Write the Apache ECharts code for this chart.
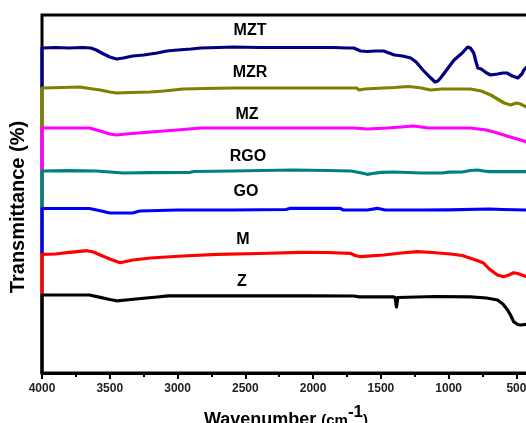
<!DOCTYPE html>
<html>
<head>
<meta charset="utf-8">
<script src="https://cdn.jsdelivr.net/npm/echarts@6/dist/echarts.min.js"></script>
<style>
html,body{margin:0;padding:0;background:#fff;}
#chart{width:526px;height:423px;}
</style>
</head>
<body>
<div id="chart"></div>
<script>
// Series names (top to bottom)
var seriesNames = ['MZT', 'MZR', 'MZ', 'RGO', 'GO', 'M', 'Z'];
// Tick labels (wavenumber, cm-1)
var tickLabels = [4000, 3500, 3000, 2500, 2000, 1500, 1000, 500];

// Offset transmittance traces: [wavenumber, value]
var MZT = [[4000,325],[3900,325.5],[3800,325],[3700,325.5],[3640,325],[3600,323],[3560,320],[3500,316],[3450,314],[3400,315],[3330,317],[3250,318],[3150,320],[3080,322],[3000,323],[2900,324],[2830,325],[2700,325.5],[2590,326],[2400,325.5],[2200,325.5],[2000,325.5],[1850,325.5],[1750,325],[1700,325],[1650,322],[1600,321.5],[1540,322],[1480,322],[1440,320],[1400,318],[1340,317],[1280,315],[1240,311],[1190,303],[1140,296],[1100,291],[1080,292],[1060,295],[1010,304],[960,313],[900,320],[860,326],[840,325],[815,320],[800,312],[785,305],[760,304],[720,300],[690,298],[640,299],[600,300],[570,300],[530,297],[490,295],[460,299],[445,303],[425,306]];
var MZR = [[4000,285],[3850,285.5],[3720,286],[3650,284.5],[3570,283],[3500,281],[3450,280],[3350,280.5],[3200,281],[3100,282],[2960,284],[2800,284.5],[2590,285],[2300,285],[2000,285],[1800,285],[1680,285],[1660,283],[1620,284],[1480,285],[1400,285.5],[1300,286.5],[1260,286],[1200,285],[1134,283],[1050,284],[950,284],[839,284],[760,282],[690,278],[640,274],[590,270],[543,268],[500,270],[470,269],[425,266]];
var MZ = [[4000,245],[3800,245],[3650,245],[3570,242],[3500,239],[3450,238],[3380,239],[3200,241],[3000,243],[2830,245],[2500,245],[2200,245],[1850,245],[1700,245],[1600,244],[1450,245],[1350,246],[1260,247],[1200,246],[1150,245],[1000,245],[840,245],[720,243],[640,240],[570,237],[521,235],[470,233],[425,231]];
var RGO = [[4000,202],[3800,202.3],[3600,202],[3500,201],[3402,200],[3200,200.3],[2907,200.7],[2880,201.5],[2600,202],[2146,203],[1900,202.5],[1720,202],[1660,200.5],[1600,198.7],[1560,199.5],[1500,200.7],[1400,201],[1300,200.5],[1200,200],[1050,200],[1000,200.8],[900,201],[840,202.5],[787,203],[740,202],[700,201.3],[550,201.3],[425,201.3]];
var GO = [[4000,164.5],[3650,164.5],[3570,162.3],[3500,160],[3330,160],[3280,162],[3000,163],[2600,163],[2200,163.5],[2168,164.7],[1800,164.7],[1777,163],[1600,163],[1526,164.7],[1470,163],[1200,163],[1000,163.2],[987,164],[700,164],[600,163.5],[425,163]];
var M = [[4000,118.7],[3900,119],[3815,120.3],[3668,122.3],[3620,121],[3570,118],[3500,114],[3424,110.3],[3330,113],[3200,115],[2960,117],[2707,118.7],[2400,119.5],[2094,120.7],[1900,120.5],[1725,119.7],[1690,117.5],[1650,116.3],[1480,118],[1350,120],[1230,121.3],[1120,120.5],[987,119],[900,117.5],[839,114.7],[790,112.5],[743,110],[700,104],[640,98],[595,96.3],[555,98],[521,100.3],[490,99.5],[470,98.5],[425,96.3]];
var Z = [[4000,78],[3800,78],[3650,78],[3570,75.6],[3500,73.5],[3450,72.2],[3380,73],[3270,74.5],[3150,76],[3070,77.2],[2800,77.2],[2400,77.2],[2000,77.2],[1700,77],[1660,76.2],[1500,76.2],[1410,76.2],[1395,75.5],[1385,66],[1375,75.5],[1363,76.2],[1100,76.5],[839,76.2],[720,75],[640,73],[600,69],[565,63],[540,57],[521,51.3],[490,48.5],[470,48],[425,48.7]];

var allData = [MZT, MZR, MZ, RGO, GO, M, Z];
var colors = ['#000080', '#808000', '#ff00ff', '#008080', '#0000ff', '#ff0000', '#000000'];

var WN_MAX = 4000; // axis distance measured from 4000 cm-1 (axis runs 4000 -> 400)
function toAxis(pair) { return [WN_MAX - pair[0], pair[1]]; }

var series = allData.map(function (arr, i) {
  var below = i < allData.length - 1 ? allData[i + 1][0][1] : 0;
  var pts = [[WN_MAX, below]].concat(arr).map(toAxis);
  return {
    name: seriesNames[i],
    type: 'line',
    data: pts,
    showSymbol: false,
    symbol: 'none',
    clip: false,
    lineStyle: { color: colors[i], width: 3.2, join: 'round' },
    z: 3
  };
});

var FONT = 'Liberation Sans, Arial, sans-serif';
var labelPos = [[250, 31], [250, 73], [247, 115], [248, 157], [246, 192], [243, 240], [242, 282]];
var graphics = seriesNames.map(function (n, i) {
  return {
    type: 'text', x: labelPos[i][0], y: labelPos[i][1], z: 10,
    style: { text: n, font: 'bold 16px ' + FONT, fill: '#000', align: 'center', verticalAlign: 'middle' }
  };
});
graphics.push({
  type: 'text', x: 18, y: 207, rotation: Math.PI / 2, z: 10,
  style: { text: 'Transmittance (%)', font: 'bold 20px ' + FONT, fill: '#000', align: 'center', verticalAlign: 'middle' }
});

var chart = echarts.init(document.getElementById('chart'), null, { renderer: 'canvas' });
chart.setOption({
  animation: false,
  backgroundColor: '#fff',
  grid: { left: 42, top: 15, right: -4, bottom: 50, outerBoundsMode: 'none', containLabel: false, show: true, borderColor: '#000', borderWidth: 3, backgroundColor: 'transparent' },
  xAxis: {
    type: 'value', min: 0, max: 3600, interval: 500,
    name: '{a|Wavenumber }{b|(cm}{c|-1}{b|)}',
    nameLocation: 'middle', nameGap: 31,
    nameTextStyle: {
      rich: {
        a: { fontFamily: FONT, fontWeight: 'bold', fontSize: 18, color: '#000' },
        b: { fontFamily: FONT, fontWeight: 'bold', fontSize: 15, color: '#000' },
        c: { fontFamily: FONT, fontWeight: 'bold', fontSize: 17, color: '#000', padding: [0, 0, 16, 0] }
      }
    },
    axisLine: { show: true, lineStyle: { color: '#000', width: 3 } },
    axisTick: { show: true, inside: false, length: 6, lineStyle: { color: '#000', width: 2 } },
    minorTick: { show: true, splitNumber: 2, length: 4, lineStyle: { color: '#000', width: 2 } },
    splitLine: { show: false },
    minorSplitLine: { show: false },
    axisLabel: {
      margin: 10, fontFamily: FONT, fontWeight: 'bold', fontSize: 12, color: '#222',
      formatter: function (v) {
        var w = WN_MAX - v;
        return tickLabels.indexOf(w) >= 0 ? String(w) : '';
      }
    }
  },
  yAxis: {
    type: 'value', min: 0, max: 358,
    axisLine: { show: false }, axisTick: { show: false }, axisLabel: { show: false }, splitLine: { show: false }
  },
  series: series,
  graphic: graphics
});
</script>
</body>
</html>
